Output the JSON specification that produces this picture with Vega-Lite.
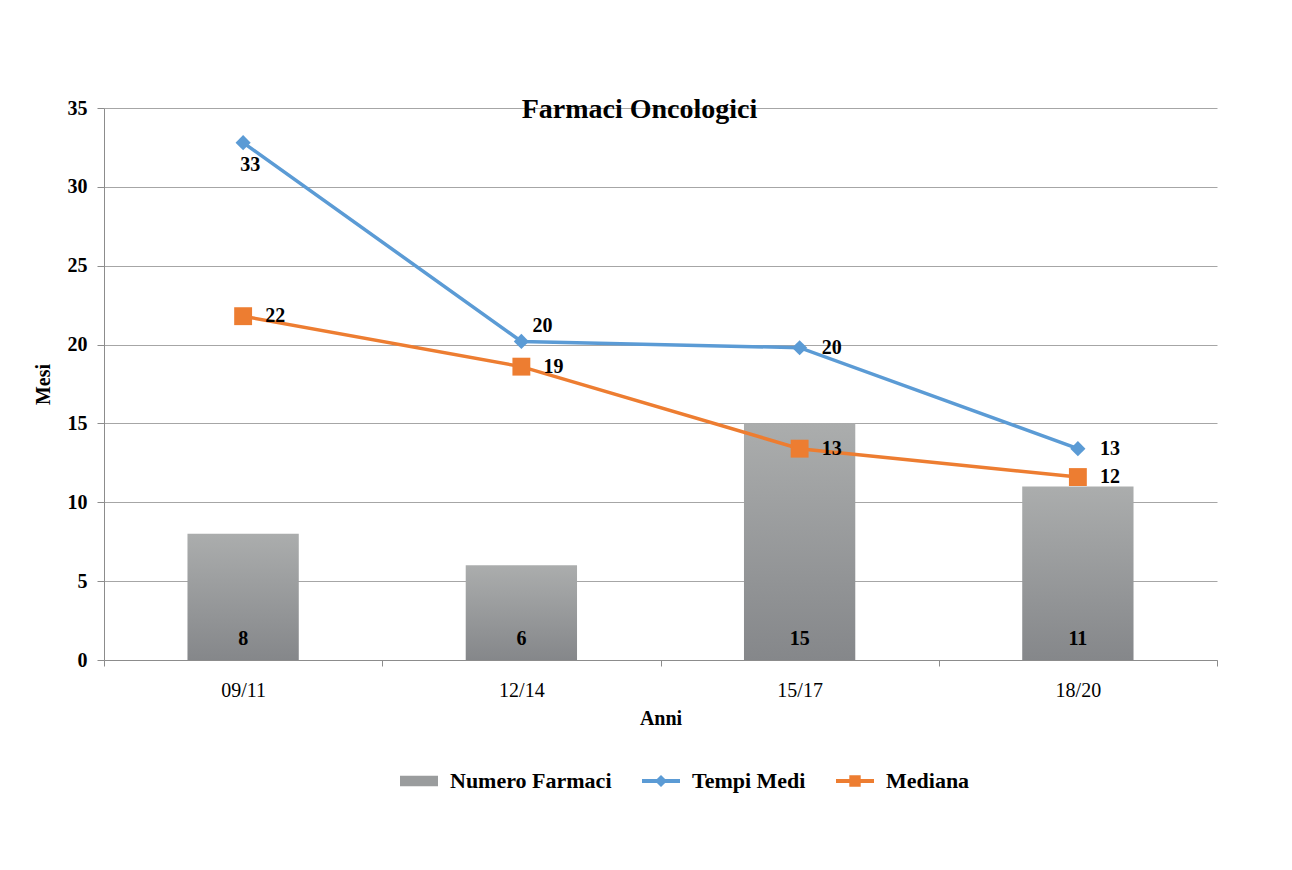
{
  "$schema": "https://vega.github.io/schema/vega-lite/v6.json",
  "width": 1113,
  "height": 552,
  "autosize": {"type": "none"},
  "padding": {"left": 104, "top": 108, "right": 75, "bottom": 210},
  "background": "white",
  "title": {"text": "Farmaci Oncologici", "font": "Liberation Serif", "fontSize": 28, "fontWeight": "bold", "color": "#000000", "anchor": "middle", "dx": -21, "offset": -40, "baseline": "middle"},
  "data": {"values": [
    {"anni": "09/11", "serie": "Numero Farmaci", "valore": 8},
    {"anni": "12/14", "serie": "Numero Farmaci", "valore": 6},
    {"anni": "15/17", "serie": "Numero Farmaci", "valore": 15},
    {"anni": "18/20", "serie": "Numero Farmaci", "valore": 11},
    {"anni": "09/11", "serie": "Tempi Medi", "valore": 32.8},
    {"anni": "12/14", "serie": "Tempi Medi", "valore": 20.2},
    {"anni": "15/17", "serie": "Tempi Medi", "valore": 19.8},
    {"anni": "18/20", "serie": "Tempi Medi", "valore": 13.4},
    {"anni": "09/11", "serie": "Mediana", "valore": 21.8},
    {"anni": "12/14", "serie": "Mediana", "valore": 18.6},
    {"anni": "15/17", "serie": "Mediana", "valore": 13.4},
    {"anni": "18/20", "serie": "Mediana", "valore": 11.6}
  ]},
  "encoding": {
    "x": {"field": "anni", "type": "nominal", "scale": {"type": "band", "paddingInner": 0, "paddingOuter": 0},
      "axis": {"title": "Anni", "labelAngle": 0, "tickBand": "extent", "tickSize": 6, "tickColor": "#8c8c8c", "domainColor": "#8c8c8c", "labelFont": "Liberation Serif", "labelFontSize": 20, "labelFontWeight": "normal", "labelColor": "#000000", "labelPadding": 14, "titleFont": "Liberation Serif", "titleFontSize": 20, "titleFontWeight": "bold", "titleColor": "#000000", "titlePadding": 8, "grid": false}},
    "y": {"field": "valore", "type": "quantitative", "scale": {"domain": [0, 35], "nice": false},
      "axis": {"title": "Mesi", "values": [0, 5, 10, 15, 20, 25, 30, 35], "grid": true, "gridColor": "#a6a6a6", "gridWidth": 1, "tickColor": "#8c8c8c", "domainColor": "#8c8c8c", "tickSize": 7, "labelPadding": 10, "labelFont": "Liberation Serif", "labelFontSize": 20, "labelFontWeight": "bold", "labelColor": "#000000", "titleFont": "Liberation Serif", "titleFontSize": 20, "titleFontWeight": "bold", "titlePadding": 14, "titleColor": "#000000"}}
  },
  "layer": [
    {
      "transform": [{"filter": "datum.serie === 'Numero Farmaci'"}],
      "mark": {"type": "bar", "width": {"band": 0.4}, "fill": {"gradient": "linear", "x1": 0, "y1": 0, "x2": 0, "y2": 1, "stops": [{"offset": 0, "color": "#abadad"}, {"offset": 1, "color": "#85878a"}]}}
    },
    {
      "transform": [{"filter": "datum.serie !== 'Numero Farmaci'"}],
      "mark": {"type": "line", "strokeWidth": 3.5},
      "encoding": {
        "color": {"field": "serie", "type": "nominal",
          "scale": {"domain": ["Numero Farmaci", "Tempi Medi", "Mediana"], "range": ["#9a9c9d", "#5b9bd5", "#ed7d31"]},
          "legend": {"title": null, "orient": "none", "legendX": 296, "legendY": 654, "direction": "horizontal", "padding": 0, "labelFont": "Liberation Serif", "labelFontSize": 22, "labelFontWeight": "bold", "labelColor": "#000000", "labelLimit": 400, "labelOffset": 12, "columnPadding": 30, "symbolSize": 1444,
            "encode": {"symbols": {"update": {
              "shape": {"signal": "datum.value === 'Numero Farmaci' ? 'M-1,-0.27H1V0.27H-1Z' : datum.value === 'Tempi Medi' ? 'M-1,-0.1H1V0.1H-1Z M0,-0.32L0.32,0L0,0.32L-0.32,0Z' : 'M-1,-0.1H1V0.1H-1Z M-0.3,-0.3H0.3V0.3H-0.3Z'"},
              "fill": {"scale": "color", "field": "value"},
              "stroke": {"value": "transparent"},
              "strokeWidth": {"value": 0},
              "opacity": {"value": 1},
              "size": {"value": 1444}
            }}}}
        }
      }
    },
    {
      "transform": [{"filter": "datum.serie === 'Tempi Medi'"}],
      "mark": {"type": "point", "shape": "diamond", "filled": true, "opacity": 1, "size": 230, "color": "#5b9bd5"}
    },
    {
      "transform": [{"filter": "datum.serie === 'Mediana'"}],
      "mark": {"type": "point", "shape": "square", "filled": true, "opacity": 1, "size": 320, "color": "#ed7d31"}
    },
    {
      "transform": [{"filter": "datum.serie === 'Numero Farmaci'"}],
      "mark": {"type": "text", "font": "Liberation Serif", "fontSize": 20, "fontWeight": "bold", "color": "#000000", "dy": -21, "baseline": "middle", "align": "center"},
      "encoding": {"y": {"datum": 0}, "text": {"field": "valore", "type": "quantitative", "format": ".0f"}}
    },
    {
      "transform": [{"filter": "datum.serie !== 'Numero Farmaci' && !(datum.serie === 'Tempi Medi' && (datum.anni === '09/11' || datum.anni === '12/14'))"}],
      "mark": {"type": "text", "font": "Liberation Serif", "fontSize": 20, "fontWeight": "bold", "color": "#000000", "dx": 22, "baseline": "middle", "align": "left"},
      "encoding": {"text": {"field": "valore", "type": "quantitative", "format": ".0f"}}
    },
    {
      "transform": [{"filter": "datum.serie === 'Tempi Medi' && datum.anni === '09/11'"}],
      "mark": {"type": "text", "font": "Liberation Serif", "fontSize": 20, "fontWeight": "bold", "color": "#000000", "dx": 7, "dy": 22, "baseline": "middle", "align": "center"},
      "encoding": {"text": {"field": "valore", "type": "quantitative", "format": ".0f"}}
    },
    {
      "transform": [{"filter": "datum.serie === 'Tempi Medi' && datum.anni === '12/14'"}],
      "mark": {"type": "text", "font": "Liberation Serif", "fontSize": 20, "fontWeight": "bold", "color": "#000000", "dx": 11, "dy": -15, "baseline": "middle", "align": "left"},
      "encoding": {"text": {"field": "valore", "type": "quantitative", "format": ".0f"}}
    }
  ],
  "config": {"view": {"stroke": null}, "font": "Liberation Serif"}
}
